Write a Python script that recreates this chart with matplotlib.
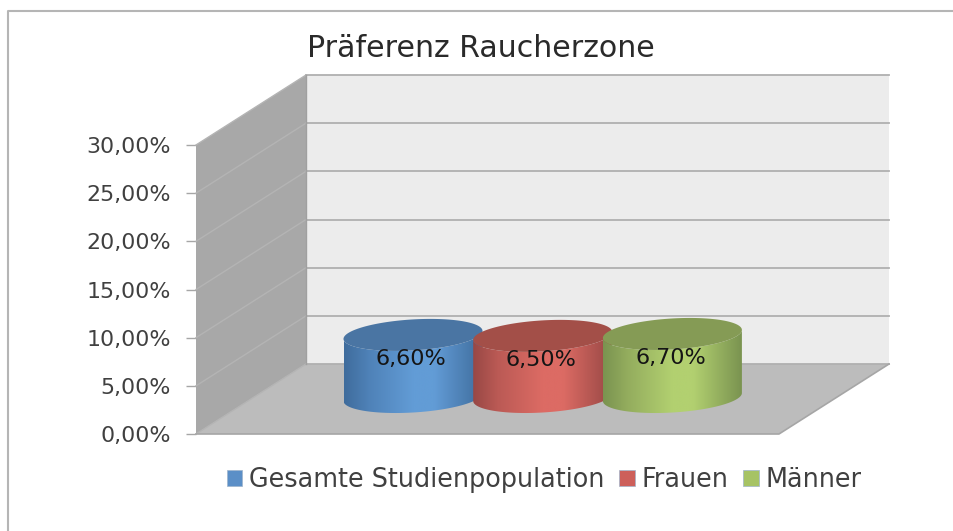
import numpy as np
import matplotlib
matplotlib.use("Agg")
import matplotlib.pyplot as plt
from matplotlib.colors import LinearSegmentedColormap
from matplotlib.patches import Patch, Polygon

series = ["Gesamte Studienpopulation", "Frauen", "Männer"]
values = [6.6, 6.5, 6.7]
value_labels = ["6,60%", "6,50%", "6,70%"]
y_ticks = [0, 5, 10, 15, 20, 25, 30]
y_tick_labels = ["0,00%", "5,00%", "10,00%", "15,00%", "20,00%", "25,00%", "30,00%"]
title = "Präferenz Raucherzone"

edge_colors = ["#3f6c9c", "#984845", "#7a9350"]
shade_colors = ["#4f82b8", "#bb5a55", "#94ad5e"]
mid_colors = ["#629cd6", "#dc6b64", "#b2d070"]
top_colors = ["#4a75a3", "#a34f48", "#859b55"]
legend_colors = ["#5b8fc7", "#cd5f5a", "#a6c364"]

W, H = 954, 531
PX = 289 / 30  # pixels per percent point
DX, DY = 110, 70 / PX  # depth offset of the back wall
A, B, SKEW = 69.5, 15.5 / PX, 4 / PX  # cylinder ellipse
BASE = 37 / PX  # cylinder base, above the front edge
XL, XR = 196, 779

plt.rcParams["font.family"] = "DejaVu Sans"
fig = plt.figure(figsize=(W / 100, H / 100), dpi=100)
ax = fig.add_axes([XL / W, (H - 434) / H, (XR - XL) / W, 289 / H])
ax.patch.set_visible(False)
for s in ax.spines.values():
    s.set_visible(False)

ymax = y_ticks[-1]
# walls and floor
ax.add_patch(Polygon([(XL + DX, DY), (XR + DX, DY), (XR + DX, ymax + DY), (XL + DX, ymax + DY)],
                     fc="#ececec", ec="none", clip_on=False, zorder=1))
ax.add_patch(Polygon([(XL, 0), (XL + DX, DY), (XL + DX, ymax + DY), (XL, ymax)],
                     fc="#a8a8a8", ec="none", clip_on=False, zorder=1))
ax.add_patch(Polygon([(XL, 0), (XR, 0), (XR + DX, DY), (XL + DX, DY)],
                     fc="#bcbcbc", ec="none", clip_on=False, zorder=1))
for t in y_ticks:
    ax.plot([XL, XL + DX], [t, t + DY], color="#b4b4b4", lw=1, clip_on=False, zorder=2)
    ax.plot([XL + DX, XR + DX], [t + DY, t + DY], color="#b0b0b0", lw=1.3, clip_on=False, zorder=2)
ax.plot([XL, XR, XR + DX], [0, 0, DY], color="#a6a6a6", lw=1.2, clip_on=False, zorder=2)
ax.plot([XL + DX, XL + DX], [DY, ymax + DY], color="#a0a0a0", lw=1, clip_on=False, zorder=2)

# cylinders
t = np.linspace(0, 2 * np.pi, 200)
front = np.linspace(0, np.pi, 100)
centers = [413 + 129.7 * i for i in range(len(values))]
for i, v in enumerate(values):
    cx = centers[i]
    z = 5 + i
    top = BASE + v - 1.5 / PX
    xs = cx + A * np.cos(front)
    y_off = SKEW * np.cos(front) - B * np.sin(front)
    side = np.vstack([np.column_stack([xs, top + y_off]),
                      np.column_stack([xs[::-1], BASE + y_off[::-1]])])
    clip = Polygon(side, transform=ax.transData, fc="none", ec="none")
    ax.add_patch(clip)
    cmap = LinearSegmentedColormap.from_list(
        "c", [(0, edge_colors[i]), (0.18, shade_colors[i]), (0.5, mid_colors[i]),
              (0.65, mid_colors[i]), (1, edge_colors[i])])
    im = ax.imshow(np.linspace(0, 1, 256)[None, :], cmap=cmap, aspect="auto",
                   extent=[cx - A, cx + A, BASE - 3, top + 3], zorder=z, clip_on=True)
    im.set_clip_path(clip)
    ax.fill(cx + A * np.cos(t), top + SKEW * np.cos(t) + B * np.sin(t),
            color=top_colors[i], zorder=z, lw=0)
    ax.text(cx - 2, top - 24 / PX, value_labels[i], ha="center", va="center",
            fontsize=16, color="#151515", zorder=20)

ax.set_xlim(XL, XR)
ax.set_ylim(0, ymax)
ax.set_xticks([])
ax.set_yticks(y_ticks)
ax.set_yticklabels(y_tick_labels, fontsize=15.9, color="#404040")
ax.tick_params(axis="y", length=7, width=1, color="#a6a6a6", pad=11)

fig.text(481 / W, 1 - 48 / H, title, ha="center", va="center", fontsize=21.6, color="#2a2a2a")

handles = [Patch(fc=c, ec="#9fb4cc", lw=0.5) for c in legend_colors]
fig.legend(handles, series, loc="center", bbox_to_anchor=(544 / W, 1 - 480 / H), ncol=3, frameon=False,
           fontsize=18.4, labelcolor="#404040", handlelength=0.62, handleheight=0.62,
           handletextpad=0.25, columnspacing=0.58)

# chart border
fig.add_artist(plt.Line2D([8.5 / W, 8.5 / W, 1], [0, 1 - 11 / H, 1 - 11 / H], color="#b5b5b5", lw=1.5))

fig.savefig("out.png", dpi=100, facecolor="white")
